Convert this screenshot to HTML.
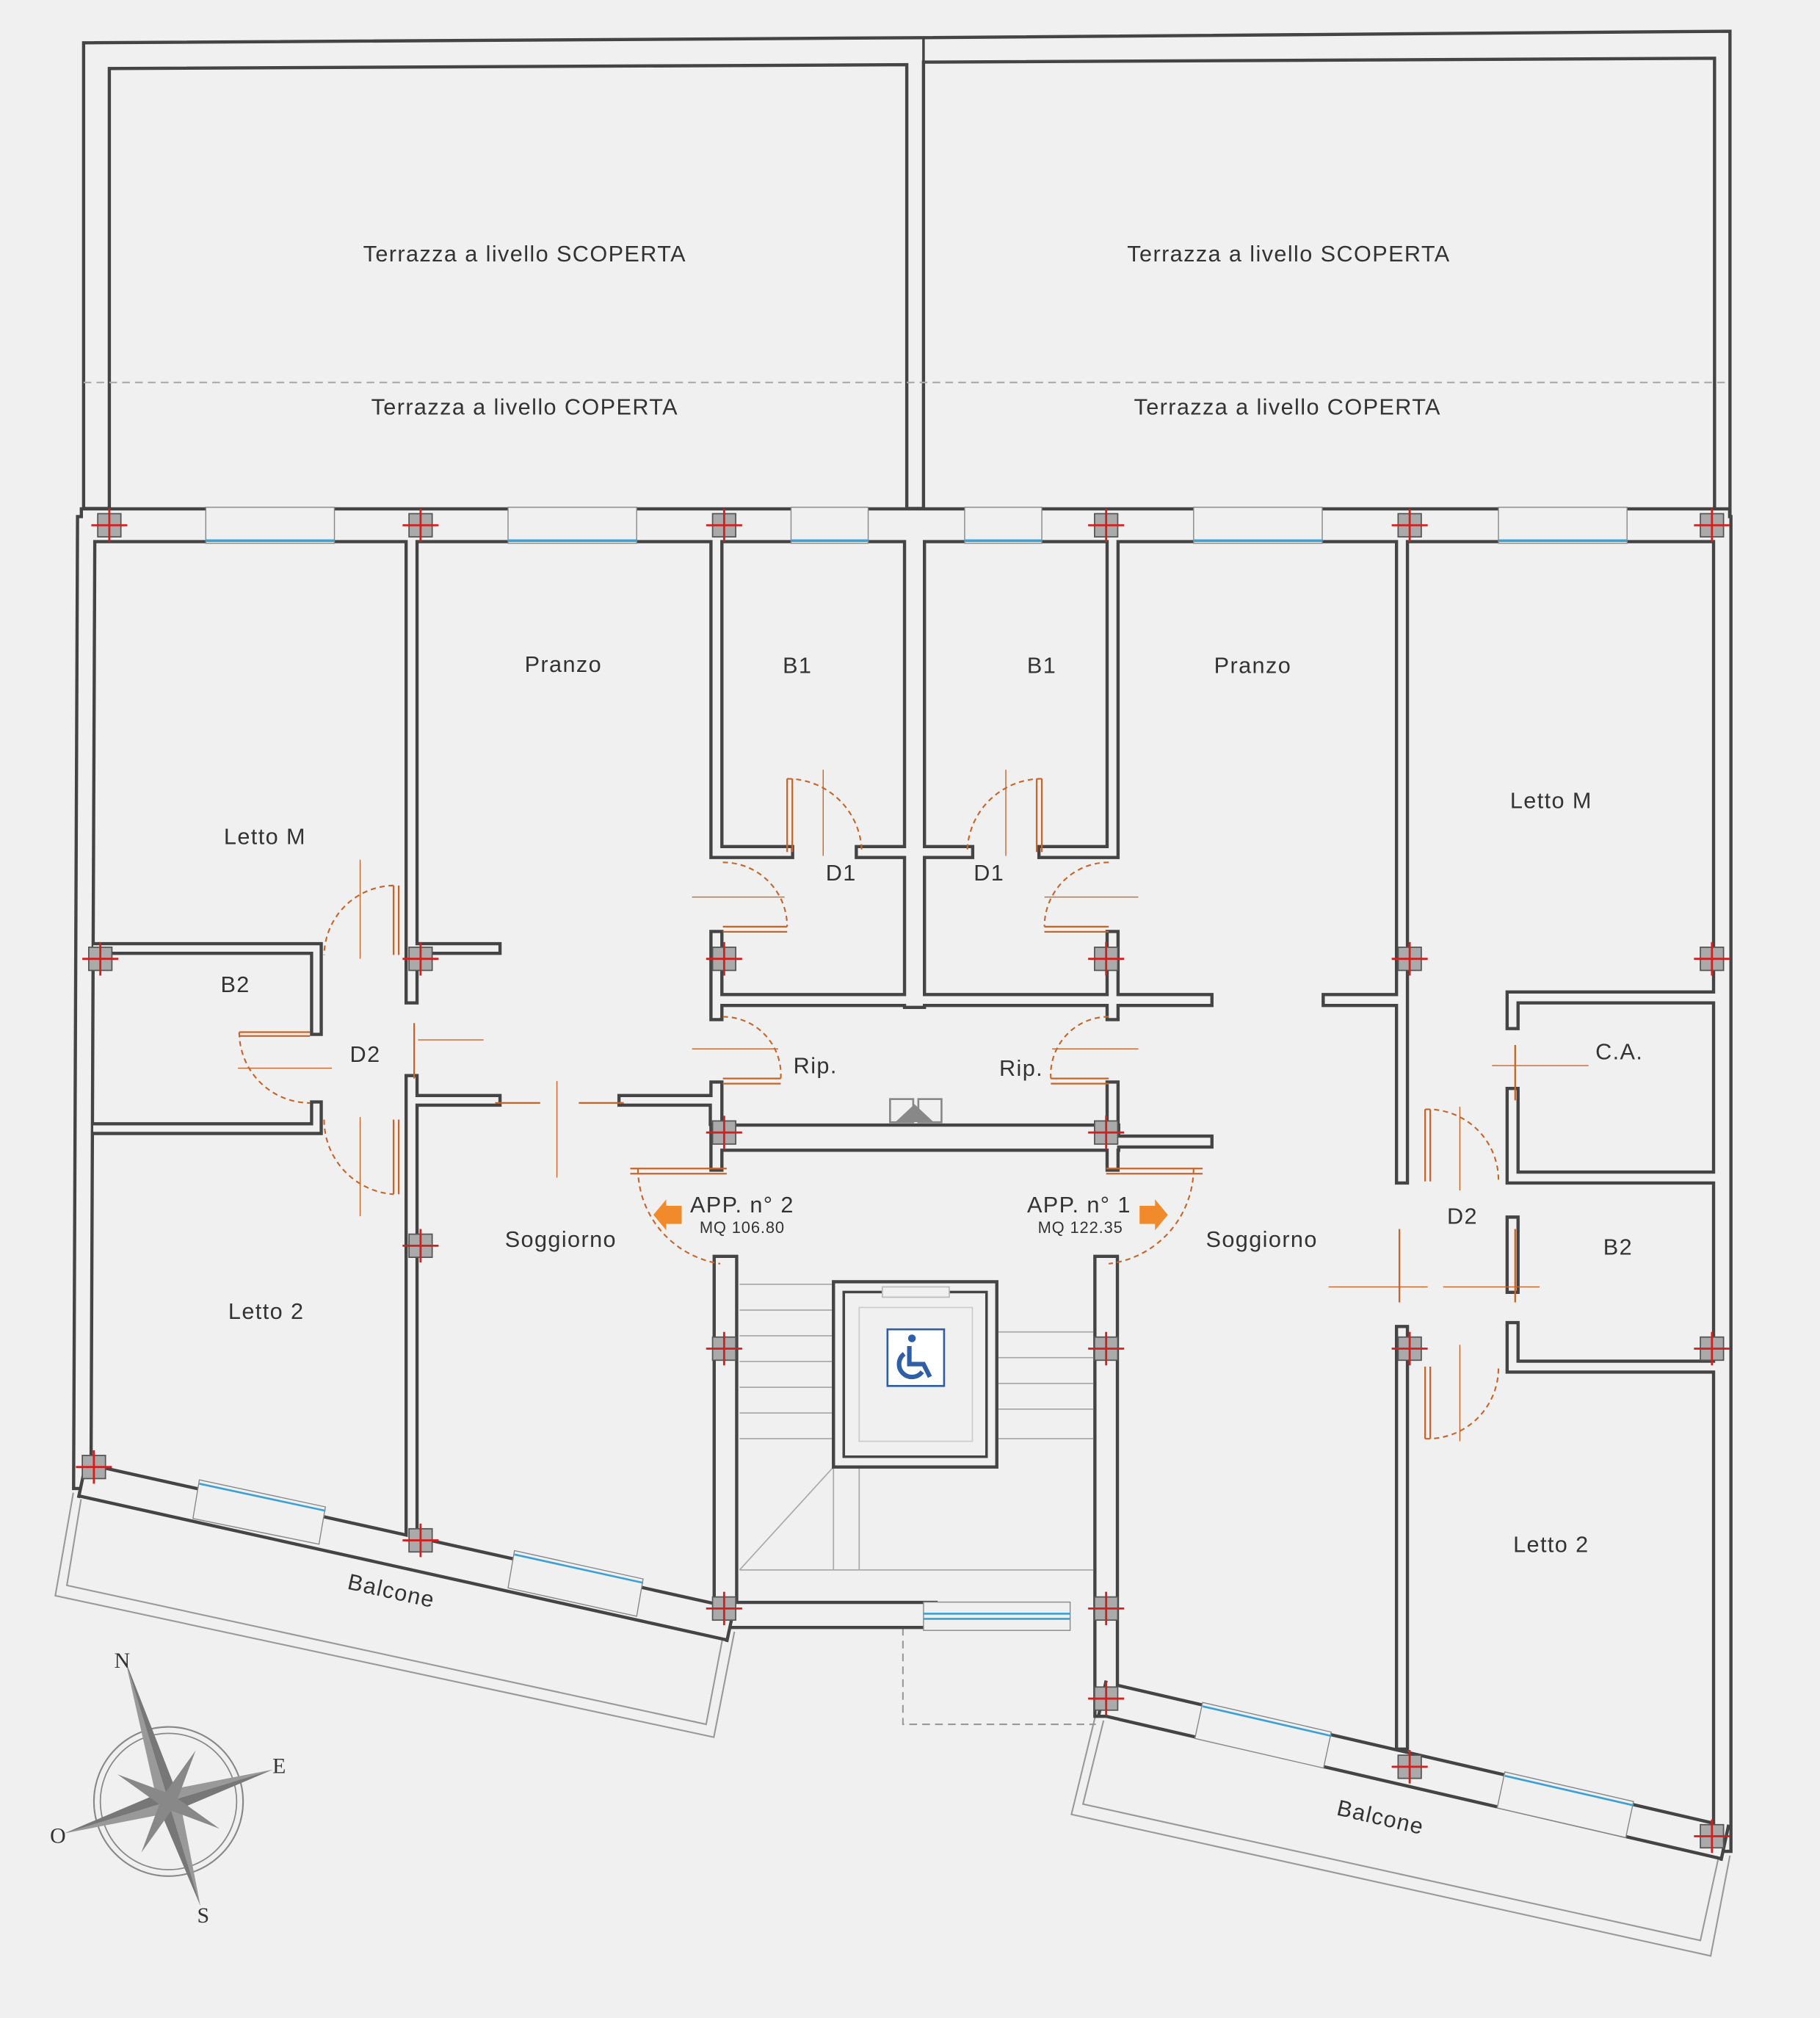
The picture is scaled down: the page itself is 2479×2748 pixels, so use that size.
<!DOCTYPE html>
<html><head><meta charset="utf-8"><style>
html,body{margin:0;padding:0;background:#f0f0f0;}
svg{display:block;}
text{font-family:"Liberation Sans",sans-serif;fill:#333;}
</style></head><body>
<svg width="2479" height="2748" viewBox="0 0 1415 1568" xmlns="http://www.w3.org/2000/svg">
<rect x="0" y="0" width="1415" height="1568" fill="#f0f0f0"/>

<path d="M65,33 L718,29 L1345,24 L1345,408 L1333,408 L1333,45 L718,48 L718,395 L705,395 L705,50 L85,53 L85,395 L65,395 Z" fill="#f0f0f0" stroke="#444" stroke-width="2.5"/>
<line x1="718" y1="29" x2="718" y2="48" stroke="#444" stroke-width="2"/>
<line x1="65" y1="297" x2="1345" y2="297" stroke="#aaa" stroke-width="1.2" stroke-dasharray="6,4"/>

<g fill="none" stroke="#999" stroke-width="1.2">
<path d="M57,1160 L43,1240 L555,1350 L571,1268"/>
<path d="M63,1165 L52,1232 L549,1340 L562,1272"/>
<path d="M852,1332 L833,1410 L1330,1520 L1345,1442"/>
<path d="M858,1337 L842,1402 L1322,1508 L1336,1444"/>
<path d="M702,1265 L702,1340 L852,1340" stroke-dasharray="6,4"/>
</g>

<g fill="none" stroke-linecap="square" stroke-linejoin="miter">
<g stroke="#444">
<path d="M76,408 L1332,408" stroke-width="28"/>
<path d="M67,408 L64,1150" stroke-width="16"/>
<path d="M1339,408 L1339,1432" stroke-width="16"/>
<path d="M711,408 L711,775" stroke-width="18"/>
<path d="M64,1150 L568,1262" stroke-width="28" stroke-linecap="butt"/>
<path d="M857,1320 L1341,1432" stroke-width="28" stroke-linecap="butt"/>
<path d="M320,422 L320,775 M320,840 L320,1195" stroke-width="11"/>
<path d="M75,737 L246,737 L246,800 M320,737 L385,737" stroke-width="10"/>
<path d="M75,877 L246,877 L246,860 M320,855 L385,855 M485,855 L556,855 L556,870" stroke-width="10"/>
<path d="M557,422 L557,662 L612,662 M670,662 L705,662" stroke-width="11"/>
<path d="M557,728 L557,788 M557,777 L705,777" stroke-width="11"/>
<path d="M557,845 L557,905" stroke-width="11"/>
<path d="M565,884 L860,884" stroke-width="22"/>
<path d="M564,985 L564,1255" stroke-width="20"/>
<path d="M574,1255 L718,1255" stroke-width="22"/>
<path d="M860,985 L860,1325" stroke-width="20"/>
<path d="M865,422 L865,662 L812,662 M752,662 L718,662" stroke-width="11"/>
<path d="M865,728 L865,788 M718,777 L865,777 M865,777 L938,777 M1033,777 L1088,777" stroke-width="11"/>
<path d="M865,845 L865,905 M865,887 L938,887" stroke-width="11"/>
<path d="M1090,422 L1090,915 M1090,1035 L1090,1355" stroke-width="11"/>
<path d="M1176,775 L1333,775 M1176,775 L1176,795" stroke-width="11"/>
<path d="M1176,850 L1176,915 L1333,915 M1176,950 L1176,1000 M1176,1032 L1176,1062 L1333,1062" stroke-width="11"/>
</g>
<g stroke="#f0f0f0">
<path d="M76,408 L1332,408" stroke-width="23"/>
<path d="M67,408 L64,1150" stroke-width="11"/>
<path d="M1339,408 L1339,1432" stroke-width="11"/>
<path d="M711,408 L711,775" stroke-width="13"/>
<path d="M64,1150 L568,1262" stroke-width="23" stroke-linecap="butt"/>
<path d="M857,1320 L1341,1432" stroke-width="23" stroke-linecap="butt"/>
<path d="M320,422 L320,775 M320,840 L320,1195" stroke-width="6"/>
<path d="M75,737 L246,737 L246,800 M320,737 L385,737" stroke-width="5"/>
<path d="M75,877 L246,877 L246,860 M320,855 L385,855 M485,855 L556,855 L556,870" stroke-width="5"/>
<path d="M557,422 L557,662 L612,662 M670,662 L705,662" stroke-width="6"/>
<path d="M557,728 L557,788 M557,777 L705,777" stroke-width="6"/>
<path d="M557,845 L557,905" stroke-width="6"/>
<path d="M565,884 L860,884" stroke-width="17"/>
<path d="M564,985 L564,1255" stroke-width="15"/>
<path d="M574,1255 L718,1255" stroke-width="17"/>
<path d="M860,985 L860,1325" stroke-width="15"/>
<path d="M865,422 L865,662 L812,662 M752,662 L718,662" stroke-width="6"/>
<path d="M865,728 L865,788 M718,777 L865,777 M865,777 L938,777 M1033,777 L1088,777" stroke-width="6"/>
<path d="M865,845 L865,905 M865,887 L938,887" stroke-width="6"/>
<path d="M1090,422 L1090,915 M1090,1035 L1090,1355" stroke-width="6"/>
<path d="M1176,775 L1333,775 M1176,775 L1176,795" stroke-width="6"/>
<path d="M1176,850 L1176,915 L1333,915 M1176,950 L1176,1000 M1176,1032 L1176,1062 L1333,1062" stroke-width="6"/>
</g>
</g>
<g stroke="#444" stroke-width="2.5">
<line x1="67" y1="1136" x2="61" y2="1164"/><line x1="571" y1="1248" x2="565" y2="1276"/>
<line x1="860" y1="1306" x2="854" y2="1334"/><line x1="1344" y1="1418" x2="1338" y2="1446"/>
</g>

<g>
<rect x="160" y="394" width="100" height="28" fill="#f0f0f0" stroke="#888" stroke-width="0.8"/>
<rect x="395" y="394" width="100" height="28" fill="#f0f0f0" stroke="#888" stroke-width="0.8"/>
<rect x="615" y="394" width="60" height="28" fill="#f0f0f0" stroke="#888" stroke-width="0.8"/>
<rect x="750" y="394" width="60" height="28" fill="#f0f0f0" stroke="#888" stroke-width="0.8"/>
<rect x="928" y="394" width="100" height="28" fill="#f0f0f0" stroke="#888" stroke-width="0.8"/>
<rect x="1165" y="394" width="100" height="28" fill="#f0f0f0" stroke="#888" stroke-width="0.8"/>
<g stroke="#3aa0d8" stroke-width="2">
<line x1="160" y1="420" x2="260" y2="420"/><line x1="395" y1="420" x2="495" y2="420"/>
<line x1="615" y1="420" x2="675" y2="420"/><line x1="750" y1="420" x2="810" y2="420"/>
<line x1="928" y1="420" x2="1028" y2="420"/><line x1="1165" y1="420" x2="1265" y2="420"/>
</g>
<rect x="718" y="1245" width="114" height="22" fill="#f0f0f0" stroke="#888" stroke-width="0.8"/>
<line x1="718" y1="1254" x2="832" y2="1254" stroke="#3aa0d8" stroke-width="1.5"/>
<line x1="718" y1="1258" x2="832" y2="1258" stroke="#3aa0d8" stroke-width="1.5"/>
<g stroke="#3aa0d8" stroke-width="1.5" fill="#f0f0f0">
<path d="M155,1150 L253,1171 L248,1200 L150,1180 Z" stroke="#888" stroke-width="0.8"/>
<line x1="155" y1="1153" x2="253" y2="1174"/>
<path d="M400,1205 L500,1227 L495,1256 L395,1234 Z" stroke="#888" stroke-width="0.8"/>
<line x1="400" y1="1208" x2="500" y2="1230"/>
<path d="M935,1323 L1035,1346 L1029,1374 L929,1351 Z" stroke="#888" stroke-width="0.8"/>
<line x1="935" y1="1326" x2="1035" y2="1349"/>
<path d="M1170,1377 L1270,1400 L1264,1428 L1164,1405 Z" stroke="#888" stroke-width="0.8"/>
<line x1="1170" y1="1380" x2="1270" y2="1403"/>
</g>
</g>

<g stroke="#aaa" stroke-width="1" fill="none">
<line x1="575" y1="998" x2="648" y2="998"/><line x1="575" y1="1018" x2="648" y2="1018"/>
<line x1="575" y1="1038" x2="648" y2="1038"/><line x1="575" y1="1058" x2="648" y2="1058"/>
<line x1="575" y1="1078" x2="648" y2="1078"/><line x1="575" y1="1098" x2="648" y2="1098"/>
<line x1="575" y1="1118" x2="648" y2="1118"/>
<line x1="775" y1="1035" x2="850" y2="1035"/><line x1="775" y1="1055" x2="850" y2="1055"/>
<line x1="775" y1="1075" x2="850" y2="1075"/><line x1="775" y1="1095" x2="850" y2="1095"/>
<line x1="775" y1="1118" x2="850" y2="1118"/>
<line x1="575" y1="1220" x2="850" y2="1220"/>
<line x1="575" y1="1220" x2="648" y2="1140"/>
<line x1="648" y1="1140" x2="648" y2="1220"/><line x1="668" y1="1140" x2="668" y2="1220"/>
</g>
<rect x="648" y="996" width="127" height="144" fill="#f0f0f0" stroke="#444" stroke-width="2.5"/>
<rect x="656" y="1004" width="111" height="128" fill="#f0f0f0" stroke="#444" stroke-width="2"/>
<rect x="668" y="1016" width="88" height="104" fill="none" stroke="#ccc" stroke-width="1"/>
<rect x="686" y="1000" width="52" height="8" fill="#f0f0f0" stroke="#bbb" stroke-width="1"/>
<rect x="690" y="1033" width="44" height="44" fill="#fff" stroke="#2e5ea8" stroke-width="1.5"/>
<g fill="none" stroke="#2e5ea8" stroke-width="3.5">
<circle cx="709" cy="1040" r="3" fill="#2e5ea8" stroke="none"/>
<path d="M707,1046 L707,1060 L718,1060 L723,1070"/>
<path d="M703,1052 A10,10 0 1 0 717,1066"/>
</g>
<rect x="692" y="854" width="18" height="18" fill="none" stroke="#888" stroke-width="1.5"/>
<rect x="714" y="854" width="18" height="18" fill="none" stroke="#888" stroke-width="1.5"/>
<path d="M696,872 L711,858 L726,872 Z" fill="#888"/>

<g fill="none" stroke="#c86428" stroke-width="1.2" stroke-dasharray="4,3">
<path d="M612,605 A58,58 0 0 1 670,662"/>
<path d="M810,605 A58,58 0 0 0 752,662"/>
<path d="M562,670 A50,50 0 0 1 612,720"/>
<path d="M862,670 A50,50 0 0 0 812,720"/>
<path d="M562,790 A45,45 0 0 1 607,838"/>
<path d="M862,790 A45,45 0 0 0 817,838"/>
<path d="M306,688 A55,55 0 0 0 252,742"/>
<path d="M186,802 A55,55 0 0 0 241,857"/>
<path d="M252,870 A58,58 0 0 0 306,928"/>
<path d="M496,908 A75,75 0 0 0 560,982"/>
<path d="M928,908 A75,75 0 0 1 862,982"/>
<path d="M1108,862 A55,55 0 0 1 1165,918"/>
<path d="M1108,1118 A55,55 0 0 0 1165,1062"/>
</g>
<g stroke="#c86428" stroke-width="1.3" fill="none">
<path d="M612,605 L612,662 M616,605 L616,662"/>
<path d="M810,605 L810,662 M806,605 L806,662"/>
<path d="M562,720 L612,720 M562,724 L612,724"/>
<path d="M862,720 L812,720 M862,724 L812,724"/>
<path d="M562,838 L607,838 M562,842 L607,842"/>
<path d="M862,838 L817,838 M862,842 L817,842"/>
<path d="M306,688 L306,742 M310,688 L310,742"/>
<path d="M186,802 L241,802 M186,805 L241,805"/>
<path d="M306,870 L306,928 M310,870 L310,928"/>
<path d="M322,795 L322,838"/>
<path d="M385,857 L420,857 M450,857 L485,857"/>
<path d="M490,908 L565,908 M490,912 L565,912"/>
<path d="M860,908 L935,908 M860,912 L935,912"/>
<path d="M1108,862 L1108,918 M1112,862 L1112,918"/>
<path d="M1088,955 L1088,1012 M1178,955 L1178,1012"/>
<path d="M1108,1062 L1108,1118 M1112,1062 L1112,1118"/>
<path d="M1178,812 L1178,855"/>
</g>
<g stroke="#c86428" stroke-width="0.8">
<line x1="640" y1="598" x2="640" y2="665"/><line x1="782" y1="598" x2="782" y2="665"/>
<line x1="538" y1="697" x2="610" y2="697"/><line x1="812" y1="697" x2="885" y2="697"/>
<line x1="538" y1="815" x2="605" y2="815"/><line x1="818" y1="815" x2="885" y2="815"/>
<line x1="280" y1="668" x2="280" y2="745"/><line x1="280" y1="868" x2="280" y2="945"/>
<line x1="185" y1="830" x2="258" y2="830"/><line x1="325" y1="808" x2="376" y2="808"/>
<line x1="433" y1="840" x2="433" y2="915"/>
<line x1="1135" y1="860" x2="1135" y2="925"/><line x1="1135" y1="1045" x2="1135" y2="1120"/>
<line x1="1033" y1="1000" x2="1110" y2="1000"/><line x1="1122" y1="1000" x2="1197" y2="1000"/>
<line x1="1160" y1="828" x2="1235" y2="828"/>
</g>

<g fill="#aaa" stroke="#555" stroke-width="1">
<rect x="76" y="399" width="18" height="18"/><rect x="318" y="399" width="18" height="18"/>
<rect x="554" y="399" width="18" height="18"/><rect x="851" y="399" width="18" height="18"/>
<rect x="1087" y="399" width="18" height="18"/><rect x="1322" y="399" width="18" height="18"/>
<rect x="69" y="736" width="18" height="18"/><rect x="318" y="736" width="18" height="18"/>
<rect x="554" y="736" width="18" height="18"/><rect x="851" y="736" width="18" height="18"/>
<rect x="1087" y="736" width="18" height="18"/><rect x="1322" y="736" width="18" height="18"/>
<rect x="554" y="871" width="18" height="18"/><rect x="851" y="871" width="18" height="18"/>
<rect x="318" y="959" width="18" height="18"/>
<rect x="554" y="1039" width="18" height="18"/><rect x="851" y="1039" width="18" height="18"/>
<rect x="1087" y="1039" width="18" height="18"/><rect x="1322" y="1039" width="18" height="18"/>
<rect x="64" y="1131" width="18" height="18"/><rect x="318" y="1188" width="18" height="18"/>
<rect x="554" y="1241" width="18" height="18"/><rect x="851" y="1241" width="18" height="18"/>
<rect x="851" y="1311" width="18" height="18"/><rect x="1087" y="1364" width="18" height="18"/>
<rect x="1322" y="1418" width="18" height="18"/>
</g>
<g stroke="#d02020" stroke-width="1.6">
<path d="M71,408h28M85,395v26 M313,408h28M327,395v26 M549,408h28M563,395v26 M846,408h28M860,395v26 M1082,408h28M1096,395v26 M1317,408h28M1331,395v26"/>
<path d="M64,745h28M78,732v26 M313,745h28M327,732v26 M549,745h28M563,732v26 M846,745h28M860,732v26 M1082,745h28M1096,732v26 M1317,745h28M1331,732v26"/>
<path d="M549,880h28M563,867v26 M846,880h28M860,867v26 M313,968h28M327,955v26"/>
<path d="M549,1048h28M563,1035v26 M846,1048h28M860,1035v26 M1082,1048h28M1096,1035v26 M1317,1048h28M1331,1035v26"/>
<path d="M59,1140h28M73,1127v26 M313,1197h28M327,1184v26 M549,1250h28M563,1237v26 M846,1250h28M860,1237v26"/>
<path d="M846,1320h28M860,1307v26 M1082,1373h28M1096,1360v26 M1317,1427h28M1331,1414v26"/>
</g>

<path d="M508,944 L518,932 L518,937 L530,937 L530,951 L518,951 L518,956 Z" fill="#f08a2a"/>
<path d="M908,944 L898,932 L898,937 L886,937 L886,951 L898,951 L898,956 Z" fill="#f08a2a"/>

<g font-size="17.5" text-anchor="middle" letter-spacing="0.8">
<text x="408" y="203">Terrazza a livello SCOPERTA</text>
<text x="1002" y="203">Terrazza a livello SCOPERTA</text>
<text x="408" y="322">Terrazza a livello COPERTA</text>
<text x="1001" y="322">Terrazza a livello COPERTA</text>
<text x="438" y="522">Pranzo</text>
<text x="974" y="523">Pranzo</text>
<text x="620" y="523">B1</text>
<text x="810" y="523">B1</text>
<text x="206" y="656">Letto M</text>
<text x="1206" y="628">Letto M</text>
<text x="654" y="684">D1</text>
<text x="769" y="684">D1</text>
<text x="183" y="771">B2</text>
<text x="284" y="825">D2</text>
<text x="634" y="834">Rip.</text>
<text x="794" y="836">Rip.</text>
<text x="1259" y="823">C.A.</text>
<text x="436" y="969">Soggiorno</text>
<text x="981" y="969">Soggiorno</text>
<text x="1137" y="951">D2</text>
<text x="1258" y="975">B2</text>
<text x="207" y="1025">Letto 2</text>
<text x="1206" y="1206">Letto 2</text>
<text x="577" y="942">APP. n° 2</text>
<text x="839" y="942">APP. n° 1</text>
<text x="303" y="1242" transform="rotate(12.5 303 1242)">Balcone</text>
<text x="1072" y="1418" transform="rotate(13 1072 1418)">Balcone</text>
</g>
<g font-size="12.5" text-anchor="middle" letter-spacing="0.5">
<text x="577" y="958">MQ 106.80</text>
<text x="840" y="958">MQ 122.35</text>
</g>

<g transform="translate(131,1400)">
<circle r="58" fill="none" stroke="#888" stroke-width="1.2"/>
<circle r="53" fill="none" stroke="#888" stroke-width="1"/>
<g transform="rotate(-17)">
<path d="M0,-115 L8,-8 L0,0 Z" fill="#777"/><path d="M0,-115 L-8,-8 L0,0 Z" fill="#999"/>
<path d="M0,85 L8,8 L0,0 Z" fill="#999"/><path d="M0,85 L-8,8 L0,0 Z" fill="#777"/>
<path d="M85,0 L8,-8 L0,0 Z" fill="#999"/><path d="M85,0 L8,8 L0,0 Z" fill="#777"/>
<path d="M-85,0 L-8,-8 L0,0 Z" fill="#777"/><path d="M-85,0 L-8,8 L0,0 Z" fill="#999"/>
<g transform="rotate(45)">
<path d="M0,-45 L6,0 L-6,0 Z" fill="#888"/><path d="M0,45 L6,0 L-6,0 Z" fill="#888"/>
<path d="M-45,0 L0,6 L0,-6 Z" fill="#888"/><path d="M45,0 L0,6 L0,-6 Z" fill="#888"/>
</g>
</g>
</g>
<g font-size="17" fill="#555" text-anchor="middle">
<text x="95" y="1296" style="font-family:'Liberation Serif',serif">N</text>
<text x="217" y="1378" style="font-family:'Liberation Serif',serif">E</text>
<text x="45" y="1432" style="font-family:'Liberation Serif',serif">O</text>
<text x="158" y="1494" style="font-family:'Liberation Serif',serif">S</text>
</g>
</svg>
</body></html>
